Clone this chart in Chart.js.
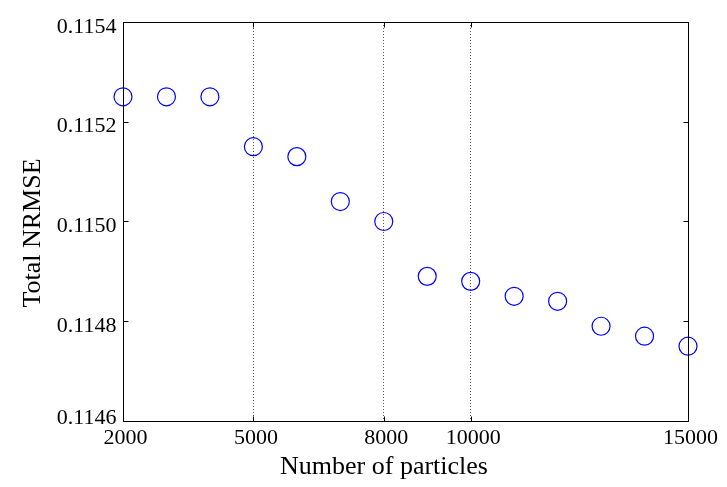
<!DOCTYPE html>
<html>
<head>
<meta charset="utf-8">
<script src="https://cdn.jsdelivr.net/npm/chart.js@4/dist/chart.umd.min.js"></script>
<style>
  html, body { margin: 0; padding: 0; background: #fff; }
  canvas { display: block; }
</style>
</head>
<body>
<canvas id="nrmseChart" width="727" height="487"></canvas>
<script>
// particle counts (x) and total NRMSE (y)
const particles = [2000, 3000, 4000, 5000, 6000, 7000, 8000, 9000, 10000, 11000, 12000, 13000, 14000, 15000];
const nrmse = [0.11525, 0.11525, 0.11525, 0.11515, 0.11513, 0.11504, 0.11500, 0.11489, 0.11488, 0.11485, 0.11484, 0.11479, 0.11477, 0.11475];
const xTicks = [2000, 5000, 8000, 10000, 15000];
const yTicks = [0.1146, 0.1148, 0.1150, 0.1152, 0.1154];

const FONT = "'Liberation Serif', 'Times New Roman', serif";

// MATLAB-style box: frame, inward tick marks, y tick labels and axis titles
const matlabBox = {
  id: 'matlabBox',
  afterDraw(chart) {
    const { ctx, chartArea: a, scales: { x, y } } = chart;
    const L = Math.round(a.left) + 0.5, R = Math.round(a.right) + 0.5;
    const T = Math.round(a.top) + 0.5, B = Math.round(a.bottom) + 0.5;
    const tick = 5;
    ctx.save();
    ctx.strokeStyle = '#000';
    ctx.lineWidth = 1;
    ctx.beginPath();
    ctx.rect(L, T, R - L, B - T);
    xTicks.forEach(v => {
      const px = Math.round(x.getPixelForValue(v)) + 0.5;
      ctx.moveTo(px, B); ctx.lineTo(px, B - tick);
      ctx.moveTo(px, T); ctx.lineTo(px, T + tick);
    });
    yTicks.forEach(v => {
      const py = Math.round(y.getPixelForValue(v)) + 0.5;
      ctx.moveTo(L, py); ctx.lineTo(L + tick, py);
      ctx.moveTo(R, py); ctx.lineTo(R - tick, py);
    });
    ctx.stroke();

    // y tick labels (lowest one nudged up like MATLAB does)
    ctx.fillStyle = '#000';
    ctx.font = `22px ${FONT}`;
    ctx.textAlign = 'right';
    ctx.textBaseline = 'alphabetic';
    yTicks.forEach((v, i) => {
      const py = y.getPixelForValue(v);
      ctx.fillText(v.toFixed(4), a.left - 6.5, py + (i === 0 ? 2.5 : 10.5));
    });

    // axis titles
    ctx.font = `26px ${FONT}`;
    ctx.textAlign = 'center';
    ctx.fillText('Number of particles', 384, 474);
    ctx.translate(40, 233);
    ctx.rotate(-Math.PI / 2);
    ctx.fillText('Total NRMSE', 0, 0);
    ctx.restore();
  }
};

new Chart(document.getElementById('nrmseChart'), {
  type: 'scatter',
  data: {
    datasets: [{
      data: particles.map((p, i) => ({ x: p, y: nrmse[i] })),
      pointStyle: 'circle',
      pointRadius: 9,
      pointHoverRadius: 9,
      pointBorderWidth: 1.2,
      pointBorderColor: '#0000ff',
      pointBackgroundColor: 'rgba(0,0,0,0)',
      showLine: false,
      clip: false
    }]
  },
  options: {
    responsive: false,
    animation: false,
    devicePixelRatio: 1,
    layout: { padding: { top: 22, right: 39, bottom: 0, left: 0 } },
    plugins: { legend: { display: false }, tooltip: { enabled: false } },
    scales: {
      x: {
        type: 'linear',
        min: 2000,
        max: 15000,
        afterBuildTicks: scale => { scale.ticks = xTicks.map(v => ({ value: v })); },
        afterFit: scale => { scale.height = 66; },
        grid: { color: '#555', lineWidth: 1, drawTicks: false },
        border: { display: false, dash: [1, 2] },
        ticks: {
          color: '#000',
          font: { family: FONT, size: 22 },
          padding: 4,
          labelOffset: 2.5,
          maxRotation: 0,
          autoSkip: false,
          callback: v => String(v)
        }
      },
      y: {
        type: 'linear',
        min: 0.1146,
        max: 0.1154,
        afterBuildTicks: scale => { scale.ticks = yTicks.map(v => ({ value: v })); },
        afterFit: scale => { scale.width = 123; },
        grid: { display: false, drawTicks: false },
        border: { display: false },
        ticks: { display: false }
      }
    }
  },
  plugins: [matlabBox]
});
</script>
</body>
</html>
